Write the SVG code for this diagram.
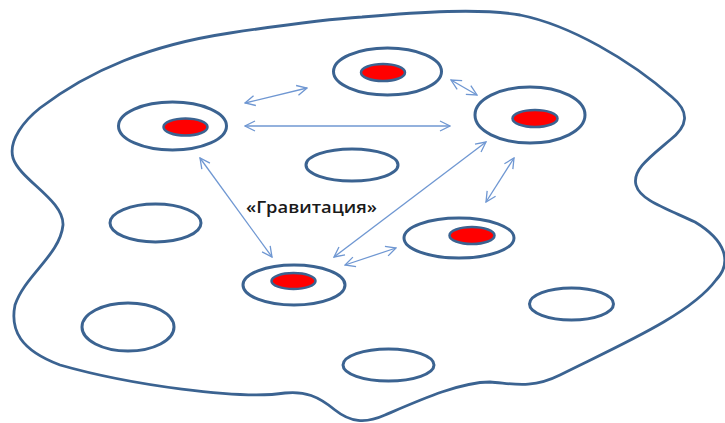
<svg xmlns="http://www.w3.org/2000/svg" width="725" height="423" viewBox="0 0 725 423">
<style>
.outer{fill:none;stroke:#3b6391;stroke-width:2.8}
.cell{fill:none;stroke:#3b6391;stroke-width:3}
.core{fill:#ff0000;stroke:#3b6391;stroke-width:2.5}
.link{fill:none;stroke:#6f97d2;stroke-width:1.3;marker-start:url(#ah);marker-end:url(#ah)}
.lbl{font-family:"Open Sans","Liberation Sans",sans-serif;font-size:16px;font-weight:600;fill:#1a1a1a}
</style>
<defs>
<marker id="ah" viewBox="0 0 12 12" refX="11" refY="6" markerWidth="12" markerHeight="12" markerUnits="userSpaceOnUse" orient="auto-start-reverse">
<path d="M1,1 L11,6 L1,11" fill="none" stroke="#6f97d2" stroke-width="1.3"/>
</marker>
</defs>
<path class="outer" d="M362,17 C420,12 480,8 520,15 C570,25 630,60 672,97 C690,112 688,126 670,140 C650,157 632,170 636,185 C640,200 665,208 695,222 C725,240 733,262 716,280 C690,315 620,345 560,375 C530,390 510,383 490,382 C460,382 420,400 385,415 C365,424 350,422 335,410 C318,396 305,391 285,393 C240,400 130,385 60,365 C20,350 10,330 15,305 C25,275 60,255 63,225 C64,200 20,180 13,158 C8,140 25,120 40,108 C90,70 150,45 230,33 C290,24 330,19 362,17 Z"/>
<g id="n1"><ellipse class="cell" cx="172.5" cy="126" rx="54" ry="24"/><ellipse class="core" cx="185.5" cy="127" rx="22" ry="8.5"/></g>
<g id="n2"><ellipse class="cell" cx="387.5" cy="71.5" rx="54" ry="23.5"/><ellipse class="core" cx="383" cy="72.5" rx="22" ry="8.5"/></g>
<g id="n3"><ellipse class="cell" cx="530" cy="115" rx="55" ry="28"/><ellipse class="core" cx="535" cy="118.5" rx="22.5" ry="8.5"/></g>
<g id="n4"><ellipse class="cell" cx="294" cy="285" rx="51" ry="20"/><ellipse class="core" cx="293.5" cy="281" rx="22" ry="8"/></g>
<g id="n5"><ellipse class="cell" cx="459" cy="238" rx="55" ry="20"/><ellipse class="core" cx="472" cy="235.5" rx="22.5" ry="8.5"/></g>
<g id="e1"><ellipse class="cell" cx="352" cy="165" rx="46" ry="16"/></g>
<g id="e2"><ellipse class="cell" cx="155.5" cy="223" rx="45.5" ry="19"/></g>
<g id="e3"><ellipse class="cell" cx="128" cy="327" rx="46" ry="24"/></g>
<g id="e4"><ellipse class="cell" cx="571.5" cy="304" rx="42" ry="16"/></g>
<g id="e5"><ellipse class="cell" cx="388.5" cy="365" rx="45.5" ry="16"/></g>
<g id="connectors">
<line class="link" x1="245" y1="103" x2="307" y2="88"/>
<line class="link" x1="245" y1="126" x2="450" y2="126"/>
<line class="link" x1="451" y1="80" x2="477" y2="95"/>
<line class="link" x1="200" y1="158" x2="272" y2="257"/>
<line class="link" x1="334" y1="257" x2="486" y2="142"/>
<line class="link" x1="514" y1="158" x2="486" y2="202"/>
<line class="link" x1="345" y1="265" x2="396" y2="248"/>
</g>
<text class="lbl" x="246" y="213" textLength="131" lengthAdjust="spacingAndGlyphs">«Гравитация»</text>
</svg>
